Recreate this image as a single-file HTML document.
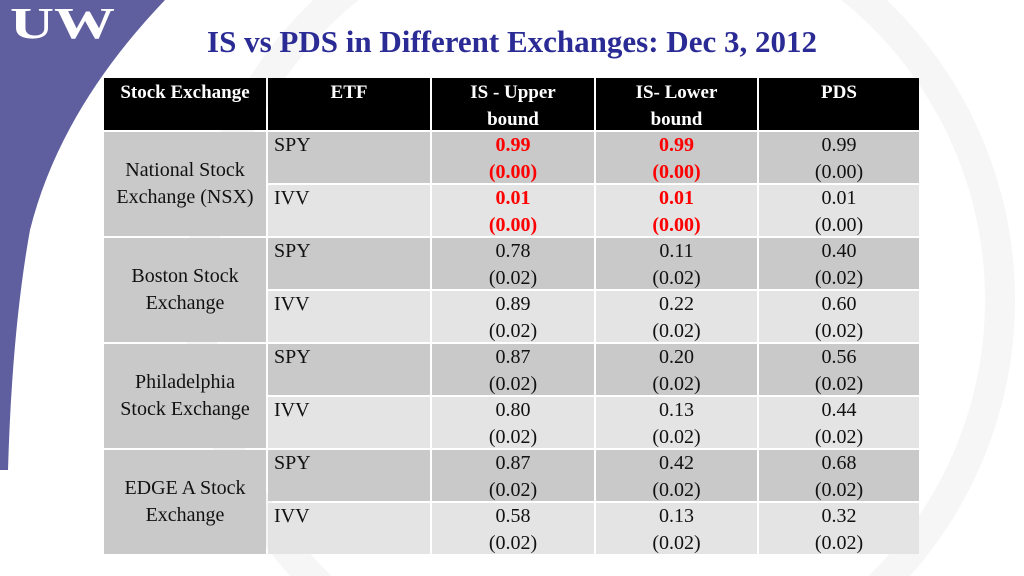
<!DOCTYPE html>
<html style="overflow:hidden"><head><meta charset="utf-8"><style>
html,body{margin:0;width:1024px;height:576px;overflow:hidden}
body{background:#fff;position:relative;font-family:"Liberation Serif",serif}
.c{position:absolute;box-sizing:border-box;font-size:20px;color:#111;line-height:27px}
.h{background:#000;color:#fff;font-weight:bold;text-align:center;font-size:19px;line-height:27px;padding-top:1px}
.d{background:#c9c9c9}.l{background:#e4e4e4}
.v{text-align:center;padding-top:0px}
.r{color:#f00;font-weight:bold}
.e{padding-left:6px}
.x{display:flex;align-items:center;justify-content:center;text-align:center;background:#c9c9c9}
</style></head><body>
<svg style="position:absolute;left:0;top:0;display:block" width="1024" height="576">
<circle cx="600" cy="300" r="400" fill="none" stroke="#f6f6f6" stroke-width="30"/>
<path d="M0,0 L165,0 Q60,110 30,230 Q12,330 8,470 L0,470 Z" fill="#5f5f9f"/>
<text x="10" y="38" font-family="Liberation Serif" font-weight="bold" font-size="44" fill="#fff" textLength="105" lengthAdjust="spacingAndGlyphs">UW</text>
</svg>
<div style="position:absolute;left:0;width:1024px;top:24px;text-align:center;font-weight:bold;font-size:31px;line-height:36px;color:#2b2b95">IS vs PDS in Different Exchanges: Dec 3, 2012</div>
<div id="t"></div>
<script>
const exchanges=[["National Stock","Exchange (NSX)"],["Boston Stock","Exchange"],["Philadelphia","Stock Exchange"],["EDGE A Stock","Exchange"]];
const etfs=["SPY","IVV"];
const upper=["0.99","0.01","0.78","0.89","0.87","0.80","0.87","0.58"];
const upperSe=["(0.00)","(0.00)","(0.02)","(0.02)","(0.02)","(0.02)","(0.02)","(0.02)"];
const lower=["0.99","0.01","0.11","0.22","0.20","0.13","0.42","0.13"];
const lowerSe=["(0.00)","(0.00)","(0.02)","(0.02)","(0.02)","(0.02)","(0.02)","(0.02)"];
const pds=["0.99","0.01","0.40","0.60","0.56","0.44","0.68","0.32"];
const pdsSe=["(0.00)","(0.00)","(0.02)","(0.02)","(0.02)","(0.02)","(0.02)","(0.02)"];
const headers=["Stock Exchange","ETF","IS - Upper<br>bound","IS- Lower<br>bound","PDS"];
const xs=[104,268,432,596,759,921];
const t=document.getElementById('t');
function cell(x,y,w,h,cls,html,name){const d=document.createElement('div');d.className='c '+cls;d.style.left=x+'px';d.style.top=y+'px';d.style.width=w+'px';d.style.height=h+'px';d.innerHTML=html;


t.appendChild(d);}
headers.forEach((h,i)=>cell(xs[i],78,xs[i+1]-xs[i]-2,52,'h',h,'header-'+i));
const y0=132,rh=53;
exchanges.forEach((e,i)=>cell(xs[0],y0+i*2*rh,xs[1]-xs[0]-2,2*rh-2,'x','<div>'+e[0]+'<br>'+e[1]+'</div>','exchange-'+i));
for(let r=0;r<8;r++){const y=y0+r*rh,bg=r%2?'l':'d',red=r<2?' r':'';
cell(xs[1],y,xs[2]-xs[1]-2,rh-2,bg+' e',etfs[r%2],'etf-'+r);
cell(xs[2],y,xs[3]-xs[2]-2,rh-2,bg+' v'+red,upper[r]+'<br>'+upperSe[r],'upper-'+r);
cell(xs[3],y,xs[4]-xs[3]-2,rh-2,bg+' v'+red,lower[r]+'<br>'+lowerSe[r],'lower-'+r);
cell(xs[4],y,xs[5]-xs[4]-2,rh-2,bg+' v',pds[r]+'<br>'+pdsSe[r],'pds-'+r);}
</script>
</body></html>
